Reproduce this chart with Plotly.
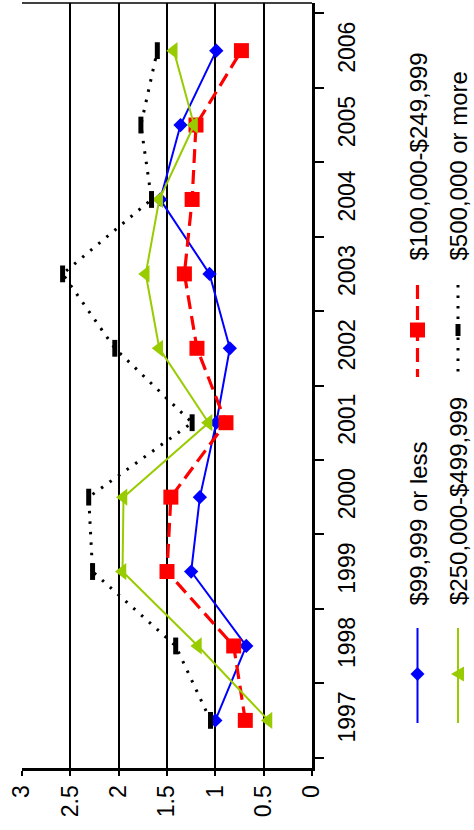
import plotly.graph_objects as go

years = ["1997", "1998", "1999", "2000", "2001", "2002", "2003", "2004", "2005", "2006"]

under_100k = [1.00, 0.68, 1.25, 1.16, 0.99, 0.85, 1.06, 1.57, 1.36, 0.99]
k100_250 = [0.69, 0.81, 1.50, 1.46, 0.89, 1.19, 1.32, 1.24, 1.20, 0.73]
k250_500 = [0.45, 1.18, 1.96, 1.95, 1.07, 1.58, 1.72, 1.58, 1.22, 1.43]
over_500k = [1.05, 1.41, 2.27, 2.31, 1.24, 2.04, 2.58, 1.66, 1.77, 1.60]

value_ticks = [0, 0.5, 1, 1.5, 2, 2.5, 3]
value_labels = ["0", "0.5", "1", "1.5", "2", "2.5", "3"]

series_names = ["$99,999 or less", "$100,000-$249,999", "$250,000-$499,999", "$500,000 or more"]

FONT = "Liberation Sans, Arial, sans-serif"
W, H = 474, 830
L, R, T, B = 22, 162, 3, 62

styles = [
    dict(color="#0000FF", dash="solid", width=2, symbol="diamond", size=11, lw=0),
    dict(color="#FF0000", dash="14px,7px", width=3.2, symbol="square", size=15, lw=0),
    dict(color="#99CC00", dash="solid", width=2, symbol="triangle-left", size=15, lw=0),
    dict(color="#000000", dash="2.5px,8px", width=3, symbol="line-ns", size=12, lw=5),
]
series = [under_100k, k100_250, k250_500, over_500k]

fig = go.Figure()
for name, vals, st in zip(series_names, series, styles):
    fig.add_trace(go.Scatter(
        x=vals, y=years, mode="lines+markers", name=name,
        line=dict(color=st["color"], width=st["width"], dash=st["dash"]),
        marker=dict(symbol=st["symbol"], size=st["size"], color=st["color"],
                    line=dict(width=st["lw"], color=st["color"])),
        showlegend=False,
    ))

PW, PH = W - L - R, H - T - B


def px_x(p):
    return (p - L) / PW


def px_y(p):
    return (H - B - p) / PH


def path(points):
    return "M " + " L ".join(f"{px_x(a):.5f},{px_y(b):.5f}" for a, b in points) + " Z"


def legend_symbol(kind, cx, cy, color):
    if kind == "diamond":
        r = 7
        pts = [(cx, cy - r), (cx + r, cy), (cx, cy + r), (cx - r, cy)]
    elif kind == "square":
        r = 7.5
        pts = [(cx - r, cy - r), (cx + r, cy - r), (cx + r, cy + r), (cx - r, cy + r)]
    elif kind == "triangle-left":
        pts = [(cx - 7, cy), (cx + 6, cy - 7.5), (cx + 6, cy + 7.5)]
    else:
        pts = [(cx - 2.5, cy - 6), (cx + 2.5, cy - 6), (cx + 2.5, cy + 6), (cx - 2.5, cy + 6)]
    return dict(type="path", xref="paper", yref="paper", path=path(pts),
                fillcolor=color, line=dict(width=0), layer="above")


# hand-built legend, rotated to read bottom-to-top
legend_cols = [417.5, 458]
legend_rows = [
    dict(line=(628, 723), mark=674, text=607),   # lower entry
    dict(line=(285, 377), mark=330, text=262),   # upper entry
]
entries = [(0, 0, 0), (1, 0, 1), (2, 1, 0), (3, 1, 1)]  # series, column, row

shapes = []
annotations = []
for si, ci, ri in entries:
    st = styles[si]
    cx = legend_cols[ci]
    row = legend_rows[ri]
    shapes.append(dict(
        type="line", xref="paper", yref="paper",
        x0=px_x(cx), x1=px_x(cx), y0=px_y(row["line"][0]), y1=px_y(row["line"][1]),
        line=dict(color=st["color"], width=st["width"], dash=st["dash"]),
    ))
    shapes.append(legend_symbol(st["symbol"], cx, row["mark"], st["color"]))
    annotations.append(dict(
        text=series_names[si], xref="paper", yref="paper",
        x=px_x(cx), y=px_y(row["text"]), xanchor="center", yanchor="bottom",
        textangle=-90, showarrow=False,
        font=dict(family=FONT, size=24, color="#000000"),
    ))

# top border of the plotting area
shapes.append(dict(type="line", xref="paper", yref="paper", x0=0, x1=1, y0=1, y1=1,
                   line=dict(color="#000000", width=1.5)))

fig.update_layout(
    width=W, height=H,
    margin=dict(l=L, r=R, t=T, b=B, pad=0),
    paper_bgcolor="white", plot_bgcolor="white",
    font=dict(family=FONT, size=23, color="#000000"),
    showlegend=False,
    xaxis=dict(
        range=[3, 0], tickmode="array", tickvals=value_ticks, ticktext=value_labels,
        tickangle=-90, showgrid=True, gridcolor="#000000", gridwidth=2,
        showline=True, linecolor="#000000", linewidth=3,
        ticks="outside", ticklen=5, tickwidth=2, tickcolor="#000000",
        zeroline=False, tickfont=dict(family=FONT, size=23),
    ),
    yaxis=dict(
        type="category", categoryorder="array", categoryarray=years,
        side="right", tickson="boundaries", ticks="outside", ticklen=9,
        tickwidth=2, tickcolor="#000000", showline=True, linecolor="#000000",
        linewidth=3, showgrid=False, tickangle=-90,
        tickfont=dict(family=FONT, size=23), ticklabelstandoff=12,
        zeroline=False,
    ),
    shapes=shapes,
    annotations=annotations,
)

fig.write_html("out.html")
